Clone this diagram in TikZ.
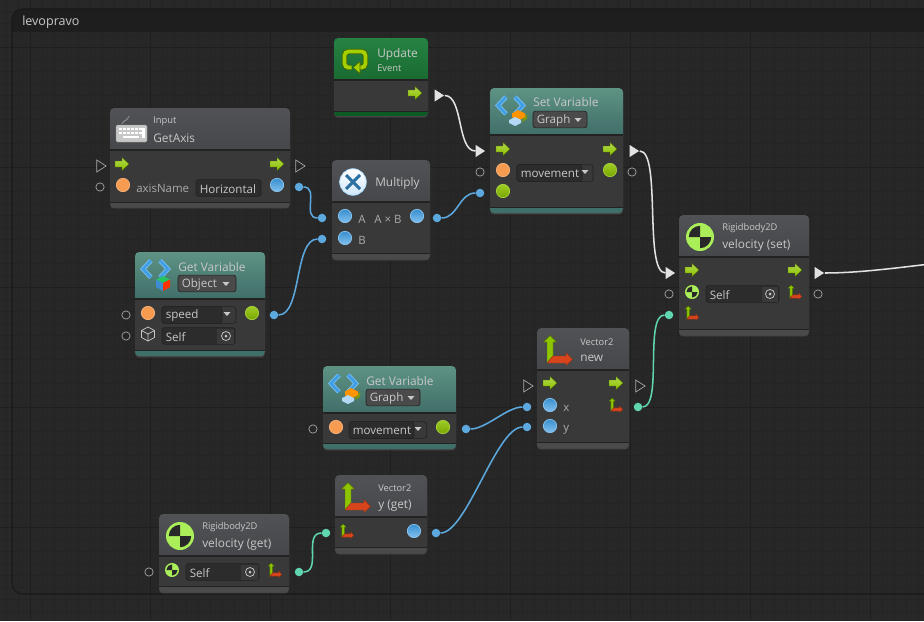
\documentclass[tikz,border=0pt]{standalone}
\usepackage{fontspec}
\setmainfont{Open Sans}
\usetikzlibrary{shapes.geometric,shadows}
\definecolor{canvasbg}{HTML}{282828}
\definecolor{groupbg}{HTML}{272727}
\definecolor{grouphead}{HTML}{1D1D1D}
\definecolor{gridminor}{HTML}{242424}
\definecolor{gridmajor}{HTML}{1F1F1F}
\definecolor{bodybg}{HTML}{393939}
\definecolor{fieldbg}{HTML}{2C2C2C}
\definecolor{edgedark}{HTML}{222222}
\definecolor{greytop}{HTML}{505255}
\definecolor{greybot}{HTML}{45474A}
\definecolor{greyfoot}{HTML}{4A4A4B}
\definecolor{tealtop}{HTML}{5E9384}
\definecolor{tealbot}{HTML}{406E69}
\definecolor{tealfoot}{HTML}{3F6F69}
\definecolor{eventtop}{HTML}{258343}
\definecolor{eventbot}{HTML}{1A6A31}
\definecolor{eventfoot}{HTML}{0D5B24}
\definecolor{wireblue}{HTML}{5CA9DF}
\definecolor{wireteal}{HTML}{60D6B0}
\definecolor{wirewhite}{HTML}{E2E2E2}
\definecolor{flowgreen}{HTML}{8EC400}
\definecolor{vecred}{HTML}{D8451C}
\definecolor{rigidlime}{HTML}{AAEE5A}
\definecolor{labeltxt}{HTML}{C8C8C8}
\definecolor{portorange}{HTML}{F79B50}
\definecolor{portblue}{HTML}{3F9FE6}
\tikzset{
  vsbody/.style={rectangle, rounded corners=3pt, fill=bodybg, inner sep=0pt, outer sep=0pt,
    drop shadow={opacity=.4, shadow xshift=0pt, shadow yshift=-1pt}},
  port/.style={circle, minimum size=10pt, inner sep=0pt},
  blueport/.style={port, draw=portblue!60!white, line width=.5pt, top color=portblue!90!black, bottom color=portblue!65!white},
  orangeport/.style={port, draw=portorange!75!white, line width=.5pt, fill=portorange},
  limeport/.style={port, draw=flowgreen!75!white, line width=.5pt, top color=flowgreen!85!white, bottom color=flowgreen!85!black},
  ring/.style={circle, draw=labeltxt!80!black, minimum size=6.2pt, inner sep=0pt, line width=.55pt},
  wiredot/.style={circle, fill=#1, minimum size=6.4pt, inner sep=0pt},
  tri/.style={isosceles triangle, isosceles triangle stretches, shape border rotate=0, inner sep=0pt,
    minimum height=7pt, minimum width=9pt},
  openflow/.style={tri, draw=labeltxt!85!black, line width=.5pt},
  fullflow/.style={tri, fill=wirewhite},
  wire/.style={draw=#1, line width=1.15pt},
  title/.style={anchor=west, yshift=-.9pt, inner sep=0pt, text=labeltxt, font=\fontsize{8.9}{10}\selectfont},
  subtitle/.style={anchor=west, yshift=-.5pt, inner sep=0pt, text=labeltxt, font=\fontsize{7}{8}\selectfont},
  portlabel/.style={anchor=west, yshift=-.5pt, inner sep=0pt, text=labeltxt!85!black, font=\fontsize{8.6}{10}\selectfont},
  fieldbox/.style={rectangle, rounded corners=2pt, draw=edgedark, line width=.5pt, inner sep=0pt},
  fieldtext/.style={anchor=west, yshift=-.5pt, inner sep=0pt, text=labeltxt, font=\fontsize{8.7}{10}\selectfont},
  flowarrow/.pic={
    \fill[draw=flowgreen!55!black, line width=.3pt, top color=flowgreen!70!white, bottom color=flowgreen]
      (-7,-3) -- (0,-3) -- (0,-6.5) -- (7,0) -- (0,6.5) -- (0,3) -- (-7,3) -- cycle;
  },
  vecaxes/.pic={
    \fill[draw=flowgreen!55!black, line width=.3pt, fill=flowgreen]
      (-11,13) -- (-11,-8) -- (-14.5,-8) -- (-8,-14.5) -- (-1.5,-8) -- (-5,-8) -- (-5,6) -- cycle;
    \fill[draw=vecred!70!black, line width=.3pt, fill=vecred]
      (-11,13) -- (-5,6) -- (8,6) -- (8,2.5) -- (14.5,9.5) -- (8,15.5) -- (8,13) -- cycle;
  },
  rigidmark/.pic={
    \fill[rigidlime] (0,0) circle (1);
    \fill[bodybg!70!black] (0,0) -- (-.8,0) arc (180:270:.8) -- cycle;
    \fill[bodybg!70!black] (0,0) -- (.8,0) arc (0:90:.8) -- cycle;
  },
  chevrons/.pic={
    \draw[line width=3.4pt, color=portblue!70!white] (-5,-8.5) -- (-13,0) -- (-5,8.5);
    \draw[line width=3.4pt, color=portblue!70!white] (4,-8.5) -- (12,0) -- (4,8.5);
    \draw[line width=2pt, color=portblue] (-5,-8.5) -- (-13,0) -- (-5,8.5);
    \draw[line width=2pt, color=portblue] (4,-8.5) -- (12,0) -- (4,8.5);
  },
  graphstack/.pic={
    \fill[olive!70!green] (5,0) -- (9,-3) -- (9,2) -- (4,5) -- cycle;
    \fill[orange!85!yellow] (0,-7) -- (7,-3.5) -- (7,0) -- (0,4) -- (-6,0) -- (-6,-3.5) -- cycle;
    \fill[portblue!40!white] (-3,0) -- (3,3) -- (3,6) -- (-3,9) -- (-9,6) -- (-9,3) -- cycle;
  },
  colorcube/.pic={
    \fill[green!45!teal!85!white] (0,-7) -- (7,-3.5) -- (0,0) -- (-7,-3.5) -- cycle;
    \fill[cyan!60!blue!80!white] (-7,-3.5) -- (0,0) -- (0,8) -- (-7,4) -- cycle;
    \fill[red!60!orange] (7,-3.5) -- (0,0) -- (0,8) -- (7,4) -- cycle;
  },
  outlinecube/.pic={
    \draw[labeltxt, line width=.55pt, line join=round] (0,-7) -- (6.5,-3.5) -- (6.5,3.5) -- (0,7) -- (-6.5,3.5) -- (-6.5,-3.5) -- cycle
      (-6.5,-3.5) -- (0,0) -- (6.5,-3.5) (0,0) -- (0,7);
  },
  droptri/.pic={\fill[labeltxt] (-3.5,-2) -- (3.5,-2) -- (0,2) -- cycle;},
  targetmark/.pic={
    \draw[labeltxt, line width=.55pt] (0,0) circle (4.5);
    \fill[labeltxt] (0,0) circle (1.5);
  },
}
% name, left, top, right, bottom, header end, footer start, kind
\newcommand{\vsbox}[8]{
  \node[vsbody, minimum width={(#4-#2)*0.75pt}, minimum height={(#5-#3)*0.75pt}] (#1) at ({(#2+#4)/2},{(#3+#5)/2}) {};
  \begin{scope}
    \clip[rounded corners=3pt] (#2,#3) rectangle (#4,#5);
    \fill[top color=#8top, bottom color=#8bot] (#2,#3) rectangle (#4,#6);
    \fill[#8foot] (#2,#7) rectangle (#4,#5);
    \draw[edgedark, line width=.8pt] (#2,#6) -- (#4,#6);
    \draw[edgedark, line width=.7pt] (#2,#7) -- (#4,#7);
  \end{scope}
}
% name, left, right, middle y, text, fill
\newcommand{\vsfield}[6]{
  \node[fieldbox, fill=#6, minimum width={(#3-#2)*0.75pt}, minimum height=12.6pt] (#1box) at ({(#2+#3)/2},#4) {};
  \node[fieldtext] (#1) at (#2+3.5,#4) {#5};
}
\begin{document}
\begin{tikzpicture}[x=0.75pt,y=-0.75pt]
\useasboundingbox (0,0) rectangle (924,621);
\clip (0,0) rectangle (924,621);
\fill[canvasbg] (0,0) rectangle (924,621);
\fill[groupbg, rounded corners=8pt] (12,9) rectangle (1000,594);
% grid
\foreach \gx in {6,18,...,918} {\draw[gridminor, line width=.5pt] (\gx,0) -- (\gx,621);}
\foreach \gy in {11,23,...,611} {\draw[gridminor, line width=.5pt] (0,\gy) -- (924,\gy);}
\foreach \gx in {30,150,...,870} {\draw[gridmajor, line width=.6pt] (\gx,0) -- (\gx,621);}
\foreach \gy in {47,167,...,527} {\draw[gridmajor, line width=.6pt] (0,\gy) -- (924,\gy);}
\begin{scope}
\clip[rounded corners=8pt] (12,9) rectangle (1000,594);
\fill[grouphead, opacity=.85] (12,9) rectangle (1000,32);
\end{scope}
\draw[black!90, line width=.8pt, rounded corners=8pt] (12,9) rectangle (1000,594);
\node[anchor=west, inner sep=0pt, text=labeltxt, font=\fontsize{9.4}{11}\selectfont] (grouptitle) at (22,22) {levopravo};

% flow ends
\node[fullflow] (updOut) at (438,95.5){};
\node[fullflow] (setIn) at (479,151){};
\node[fullflow] (setOut) at (633,151){};
\node[fullflow] (velIn) at (669,273){};
\node[fullflow] (velOut) at (818,273){};
\coordinate (offRight) at (1010,258);
\draw[wire=wirewhite](updOut) to[out=0,in=180,looseness=.75] (setIn);
\draw[wire=wirewhite](setOut) to[out=0,in=180,looseness=.45] (velIn);
\draw[wire=wirewhite](velOut) to[out=0,in=180,looseness=.8] (offRight);

% value ends
\node[wiredot=wireblue] (axisDot) at (299,187){};
\node[wiredot=wireblue] (mulADot) at (322,218){};
\node[wiredot=wireblue] (mulBDot) at (322,239){};
\node[wiredot=wireblue] (speedDot) at (274,315){};
\node[wiredot=wireblue] (mulOutDot) at (437,218){};
\node[wiredot=wireblue] (setValDot) at (480,193){};
\node[wiredot=wireblue] (moveDot) at (466,429){};
\node[wiredot=wireblue] (newXDot) at (527,407){};
\node[wiredot=wireblue] (newYDot) at (527,427){};
\node[wiredot=wireblue] (yGetDot) at (436,533){};
\node[wiredot=wireteal] (newOutDot) at (638,407){};
\node[wiredot=wireteal] (velValDot) at (669,315){};
\node[wiredot=wireteal] (velGetDot) at (299,572){};
\node[wiredot=wireteal] (yInDot) at (326,533){};
\draw[wire=wireblue](axisDot) to[out=0,in=180,looseness=1.2] (mulADot);
\draw[wire=wireblue](speedDot) to[out=0,in=180,looseness=.7] (mulBDot);
\draw[wire=wireblue](mulOutDot) to[out=0,in=180] (setValDot);
\draw[wire=wireblue](moveDot) to[out=0,in=180,looseness=.7] (newXDot);
\draw[wire=wireblue](yGetDot) to[out=0,in=180,looseness=.5] (newYDot);
\draw[wire=wireteal](newOutDot) to[out=0,in=180,looseness=.55] (velValDot);
\draw[wire=wireteal](velGetDot) to[out=0,in=180,looseness=1.1] (yInDot);

% Update
\vsbox{update}{334}{38}{428}{116}{80}{111}{event}
\draw[line width=4pt, color=flowgreen!50!black, rounded corners=3pt] (351,67.5) -- (344.5,67.5) -- (344.5,51.5) -- (365.5,51.5) -- (365.5,67.5) -- (359,67.5);
\draw[line width=2.8pt, color=flowgreen!80!yellow, rounded corners=3pt] (351.5,67.5) -- (344.5,67.5) -- (344.5,51.5) -- (365.5,51.5) -- (365.5,67.5) -- (359,67.5);
\fill[draw=flowgreen!50!black, line width=.4pt, fill=flowgreen!80!yellow] (353,67.5) -- (360,61.5) -- (360,73.5) -- cycle;
\node[title] (updTitle) at (377,53) {Update};
\node[subtitle] (updSub) at (377,68) {Event};
\pic at (415,93) {flowarrow};

% Input GetAxis
\vsbox{input}{110}{108}{290}{207}{150}{202}{grey}
\draw[black!45, line width=.7pt] (122,124) .. controls (124,119) and (127,122) .. (129,116);
\fill[draw=black!40, line width=.3pt, fill=white!78!black, rounded corners=1pt] (116,125) rectangle (147,142);
\foreach \kx in {119,123,...,139} {\fill[white] (\kx,128) rectangle +(3,2);\fill[white] (\kx,132) rectangle +(3,2);}
\fill[white] (123,136) rectangle (139,138);
\fill[white] (142,128) rectangle (145,138);
\node[subtitle] (inpSub) at (153,121) {Input};
\node[title] (inpTitle) at (153,137) {GetAxis};
\node[openflow] (inpIn) at (100,166){};
\node[ring] (inpInVal) at (100,187){};
\pic at (122,164) {flowarrow};
\pic at (277,164) {flowarrow};
\node[openflow] (inpOut) at (299,166){};
\node[orangeport] (inpName) at (123,185){};
\node[portlabel] (inpNameLab) at (136,188) {axisName};
\vsfield{inpField}{196}{261}{188}{Horizontal}{fieldbg}
\node[blueport] (inpVal) at (277,185){};

% Multiply
\vsbox{multiply}{332}{160}{430}{259}{202}{253}{grey}
\node[circle, draw=portblue!50!white, line width=.5pt, top color=white, bottom color=portblue!25!white, minimum size=20pt, inner sep=0pt] (mulIcon) at (353,182){};
\draw[portblue!70!black, line width=2.2pt] (346,175) -- (360,189) (360,175) -- (346,189);
\node[title] (mulTitle) at (375,182) {Multiply};
\node[blueport] (mulA) at (345,216){};
\node[blueport] (mulB) at (345,238){};
\node[portlabel] (mulALab) at (358,219) {A};
\node[portlabel] (mulBLab) at (358,240) {B};
\node[portlabel] (mulOutLab) at (374,219) {A × B};
\node[blueport] (mulOut) at (417,216){};

% Set Variable
\vsbox{setvar}{490}{88}{623}{213}{135}{207}{teal}
\pic at (511,105.5) {chevrons};
\pic at (518,117) {graphstack};
\node[title] (setTitle) at (533,101) {Set Variable};
\vsfield{setKind}{533}{587}{119.5}{Graph}{greyfoot}
\pic at (578,120) {droptri};
\pic at (503,149) {flowarrow};
\pic at (610,149) {flowarrow};
\node[ring] (setNameRing) at (480,172){};
\node[orangeport] (setName) at (503,170){};
\node[fieldbox, minimum width=57pt, minimum height=12.6pt] (setDropBox) at (555,173){};
\vsfield{setField}{517}{582}{173}{movement}{fieldbg}
\pic at (585,172) {droptri};
\node[limeport] (setValOut) at (610,170){};
\node[ring] (setOutRing) at (632,172){};
\node[limeport] (setVal) at (503,191){};

% Rigidbody2D velocity set
\vsbox{velset}{679}{215}{809}{335}{257}{329}{grey}
\pic[scale=14] at (700,237) {rigidmark};
\node[subtitle] (velSub) at (722,227.5) {Rigidbody2D};
\node[title] (velTitle) at (722,244) {velocity (set)};
\pic at (692,270) {flowarrow};
\pic at (795,270) {flowarrow};
\node[ring] (velSelfRing) at (669,294){};
\pic[scale=7] at (692,292) {rigidmark};
\vsfield{velSelf}{706}{779}{294}{Self}{fieldbg}
\fill[bodybg] (762,286.5) rectangle (778,301.5);
\pic at (770,294) {targetmark};
\pic[scale=.47] at (795,292) {vecaxes};
\node[ring] (velOutRing) at (818,294){};
\pic[scale=.47] at (692,313) {vecaxes};

% Get Variable object
\vsbox{getobj}{135}{252}{265}{356}{299}{350}{teal}
\pic at (156,269) {chevrons};
\pic at (163,283) {colorcube};
\node[title] (objTitle) at (178,266) {Get Variable};
\vsfield{objKind}{178}{236}{283.5}{Object}{greyfoot}
\pic at (226,284) {droptri};
\node[ring] (speedRing) at (126,315){};
\node[orangeport] (speedName) at (148,313){};
\node[fieldbox, minimum width=55.5pt, minimum height=12.6pt] (speedDropBox) at (199,315){};
\vsfield{speedField}{162}{222}{315}{speed}{fieldbg}
\pic at (227,314) {droptri};
\node[limeport] (speedOut) at (252,313){};
\node[ring] (objSelfRing) at (126,336){};
\pic at (148,334) {outlinecube};
\vsfield{objSelf}{162}{235}{336}{Self}{fieldbg}
\fill[bodybg] (217,328.5) rectangle (234,343.5);
\pic at (226,336) {targetmark};

% Get Variable graph
\vsbox{getgraph}{323}{366}{456}{449}{413}{443}{teal}
\pic at (344,383.5) {chevrons};
\pic at (351,395) {graphstack};
\node[title] (grTitle) at (366,380) {Get Variable};
\vsfield{grKind}{366}{420}{397.5}{Graph}{greyfoot}
\pic at (411,398) {droptri};
\node[ring] (moveRing) at (313,429){};
\node[orangeport] (moveName) at (336,427){};
\node[fieldbox, minimum width=58pt, minimum height=12.6pt] (moveDropBox) at (388,430){};
\vsfield{moveField}{349}{414}{430}{movement}{fieldbg}
\pic at (418,429) {droptri};
\node[limeport] (moveOut) at (443,427){};

% Vector2 new
\vsbox{vecnew}{537}{328}{629}{448}{370}{442}{grey}
\pic at (558,350) {vecaxes};
\node[subtitle] (newSub) at (580,341) {Vector2};
\node[title] (newTitle) at (580,357) {new};
\node[openflow] (newIn) at (527,386){};
\pic at (550,383) {flowarrow};
\pic at (616,383) {flowarrow};
\node[openflow] (newOut) at (639,386){};
\node[blueport] (newX) at (550,405){};
\node[blueport] (newY) at (550,426){};
\node[portlabel] (newXLab) at (563,408) {x};
\node[portlabel] (newYLab) at (563,429) {y};
\pic[scale=.47] at (616,405) {vecaxes};

% Vector2 y get
\vsbox{vecget}{335}{475}{427}{553}{517}{547}{grey}
\pic at (356,497) {vecaxes};
\node[subtitle] (ySub) at (378,487) {Vector2};
\node[title] (yTitle) at (378,504) {y (get)};
\pic[scale=.47] at (347,531) {vecaxes};
\node[blueport] (yVal) at (414,531){};

% Rigidbody2D velocity get
\vsbox{velget}{159}{514}{289}{592}{556}{586}{grey}
\pic[scale=14] at (180,536) {rigidmark};
\node[subtitle] (gvSub) at (202,526) {Rigidbody2D};
\node[title] (gvTitle) at (202,543) {velocity (get)};
\node[ring] (gvRing) at (149,572){};
\pic[scale=7] at (172,570) {rigidmark};
\vsfield{gvSelf}{186}{259}{572}{Self}{fieldbg}
\fill[bodybg] (241,564.5) rectangle (258,579.5);
\pic at (250,572) {targetmark};
\pic[scale=.47] at (275,570) {vecaxes};
\end{tikzpicture}
\end{document}
